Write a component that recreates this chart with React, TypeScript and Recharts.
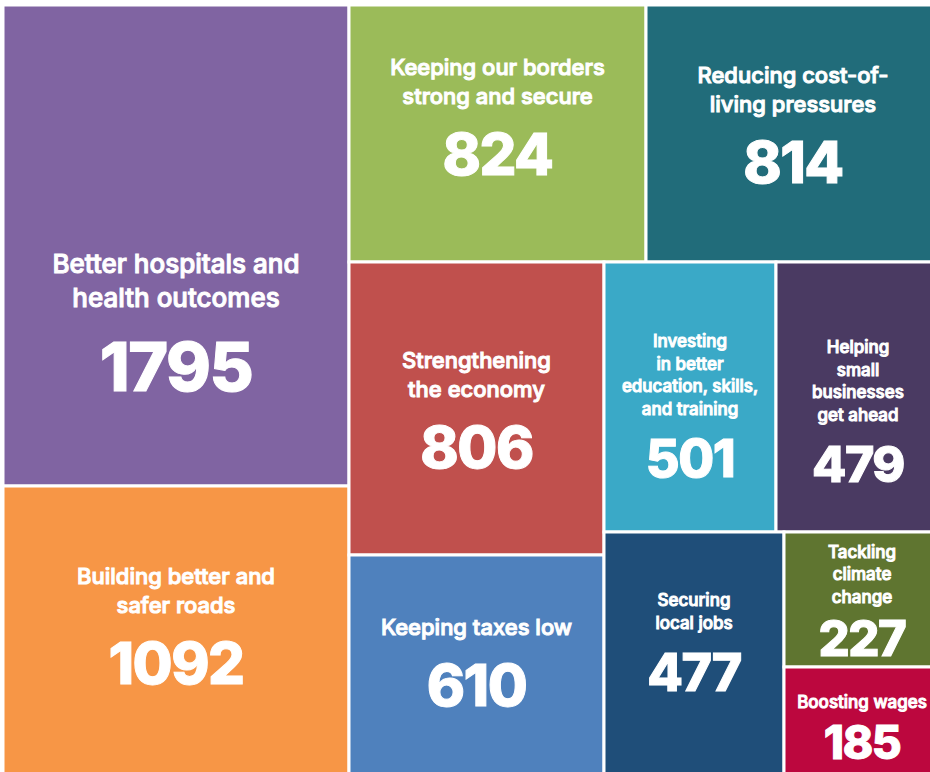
import React from 'react';
import { Treemap } from 'recharts';

const categories = [
  'Better hospitals and health outcomes',
  'Building better and safer roads',
  'Keeping our borders strong and secure',
  'Reducing cost-of-living pressures',
  'Strengthening the economy',
  'Keeping taxes low',
  'Investing in better education, skills, and training',
  'Helping small businesses get ahead',
  'Securing local jobs',
  'Tackling climate change',
  'Boosting wages',
];

const votes = [1795, 1092, 824, 814, 806, 610, 501, 479, 477, 227, 185];

const labelLines = [
  ['Better hospitals and', 'health outcomes'],
  ['Building better and', 'safer roads'],
  ['Keeping our borders', 'strong and secure'],
  ['Reducing cost-of-', 'living pressures'],
  ['Strengthening', 'the economy'],
  ['Keeping taxes low'],
  ['Investing', 'in better', 'education, skills,', 'and training'],
  ['Helping', 'small', 'businesses', 'get ahead'],
  ['Securing', 'local jobs'],
  ['Tackling', 'climate', 'change'],
  ['Boosting wages'],
];

const colors = [
  '#8064A2',
  '#F79646',
  '#9BBB59',
  '#216C7A',
  '#C0504D',
  '#4F81BD',
  '#3AA9C7',
  '#4A3A62',
  '#1F4E79',
  '#5F7530',
  '#BC073E',
];

// vertical nudges of the text blocks (px)
const textNudge: Record<string, number> = {
  'Better hospitals and health outcomes': 75,
  'Building better and safer roads': -7,
  'Keeping our borders strong and secure': -18,
  'Reducing cost-of-living pressures': -10,
  'Keeping taxes low': -5,
  'Investing in better education, skills, and training': 8,
  'Helping small businesses get ahead': 13,
  'Securing local jobs': -13,
  'Boosting wages': 4,
};

const data = categories.map((name, i) => ({
  name,
  size: votes[i],
  lines: labelLines[i],
  color: colors[i],
}));

const FONT = 'Inter, "Liberation Sans", Arial, sans-serif';

const Cell = (props: any) => {
  const { x, y, width, height, depth, name, lines, color, value, size } = props;
  if (depth !== 1) return null;
  const w = width;
  const h = height;
  const f = w > 320 && h > 400 ? 26 : w > 240 ? 22 : 17;
  const F = f === 26 ? 68 : f === 22 ? 58 : h < 120 ? 46 : h < 150 ? 49 : w > 170 ? 52 : 50;
  const lh = f === 26 ? 34 : f === 22 ? 29 : 22.5;
  const ls: string[] = lines || [];
  const gap = h < 150 ? 0.5 * F + f : 0.6 * F + f + 2;
  const blockH = 0.5 * f + (ls.length - 1) * lh + gap + 0.36 * F;
  const cx = x + w / 2;
  const top = y + h / 2 - blockH / 2 + (textNudge[name] || 0);
  const c1 = top + 0.5 * f;
  const numY = c1 + (ls.length - 1) * lh + gap;
  return (
    <g>
      <rect x={x} y={y} width={w} height={h} fill={color} stroke="#fff" strokeWidth={3} />
      {ls.map((t, i) => (
        <text
          key={i}
          x={cx}
          y={c1 + i * lh}
          textAnchor="middle"
          dominantBaseline="central"
          fill="#fff"
          fontFamily={FONT}
          fontWeight={500}
          fontSize={f}
        >
          {t}
        </text>
      ))}
      <text
        x={cx}
        y={numY}
        textAnchor="middle"
        dominantBaseline="central"
        fill="#fff"
        fontFamily={FONT}
        fontWeight={800}
        fontSize={F}
        letterSpacing={-1.5}
      >
        {value ?? size}
      </text>
    </g>
  );
};

export default function App() {
  return (
    <div style={{ position: 'absolute', left: 0, top: 0, width: 930, height: 772, overflow: 'hidden', background: '#fff' }}>
      <div style={{ position: 'absolute', left: 3, top: 5 }}>
        <Treemap
          width={937}
          height={772}
          data={data}
          dataKey="size"
          aspectRatio={1}
          isAnimationActive={false}
          stroke="#fff"
          content={<Cell />}
        />
      </div>
    </div>
  );
}
